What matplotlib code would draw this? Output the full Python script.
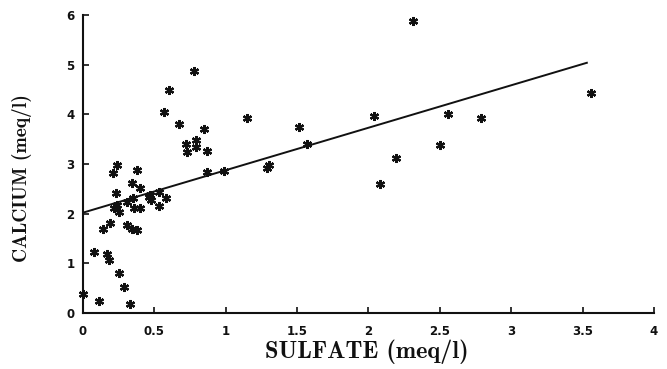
"""Calcium vs sulfate scatter with fitted line."""

import matplotlib

matplotlib.use("Agg")
import matplotlib.pyplot as plt
import numpy as np

INK = "#111111"

sulfate = [
    0.00, 0.11, 0.08, 0.17, 0.18, 0.25, 0.29, 0.33, 0.14, 0.19,
    0.21, 0.24, 0.38, 0.34, 0.40, 0.23, 0.24, 0.22, 0.25, 0.31,
    0.35, 0.36, 0.40, 0.31, 0.34, 0.38, 0.46, 0.48, 0.47, 0.53,
    0.53, 0.58, 0.87, 0.99, 1.29, 0.78, 0.60, 0.57, 0.67, 0.85,
    0.72, 0.73, 0.79, 0.79, 0.87, 1.15, 1.30, 1.51, 1.57, 2.04,
    2.08, 2.19, 2.31, 2.50, 2.56, 2.79, 3.56,
]
calcium = [
    0.38, 0.25, 1.23, 1.19, 1.07, 0.81, 0.52, 0.18, 1.69, 1.82,
    2.82, 2.98, 2.88, 2.61, 2.51, 2.41, 2.17, 2.11, 2.04, 2.24,
    2.31, 2.11, 2.11, 1.77, 1.70, 1.67, 2.34, 2.27, 2.37, 2.44,
    2.15, 2.31, 2.84, 2.86, 2.91, 4.88, 4.50, 4.05, 3.80, 3.70,
    3.41, 3.25, 3.48, 3.35, 3.26, 3.92, 2.98, 3.75, 3.40, 3.96,
    2.60, 3.13, 5.88, 3.38, 4.00, 3.92, 4.42,
]

# fitted line
fit_intercept = 2.02
fit_slope = 0.855
fit_range = [0.0, 3.53]

x_ticks = [0, 0.5, 1, 1.5, 2, 2.5, 3, 3.5, 4]
x_tick_labels = ["0", "0.5", "1", "1.5", "2", "2.5", "3", "3.5", "4"]
y_ticks = [0, 1, 2, 3, 4, 5, 6]

fig = plt.figure(figsize=(6.67, 3.69), dpi=100, facecolor="white")
ax = fig.add_axes([0.1244, 0.1518, 0.856, 0.8075])

ax.plot(sulfate, calcium, linestyle="none", marker=(6, 2, 0), markersize=6.5,
        markeredgewidth=1.6, color=INK, clip_on=False)

line_x = np.array(fit_range)
ax.plot(line_x, fit_intercept + fit_slope * line_x, color=INK, linewidth=1.4)

ax.set_xlim(0, 4)
ax.set_ylim(0, 6)
ax.set_xticks(x_ticks, labels=x_tick_labels)
ax.set_yticks(y_ticks)
ax.tick_params(direction="in", length=4, width=1.2, colors=INK, labelsize=8.5, pad=6)
ax.tick_params(axis="x", pad=9)
for label in ax.get_xticklabels() + ax.get_yticklabels():
    label.set_fontweight("bold")
for side in ("top", "right"):
    ax.spines[side].set_visible(False)
for side in ("left", "bottom"):
    ax.spines[side].set_linewidth(1.5)
    ax.spines[side].set_color(INK)

ax.set_xlabel("SULFATE (meq/l)", family="cmb10", fontsize=17.5, color=INK)
ax.set_ylabel("CALCIUM (meq/l)", family="cmb10", fontsize=14, color=INK)
ax.xaxis.set_label_coords(0.497, -0.09)
ax.yaxis.set_label_coords(-0.09, 0.453)

fig.savefig("out.png", dpi=100, facecolor="white")
